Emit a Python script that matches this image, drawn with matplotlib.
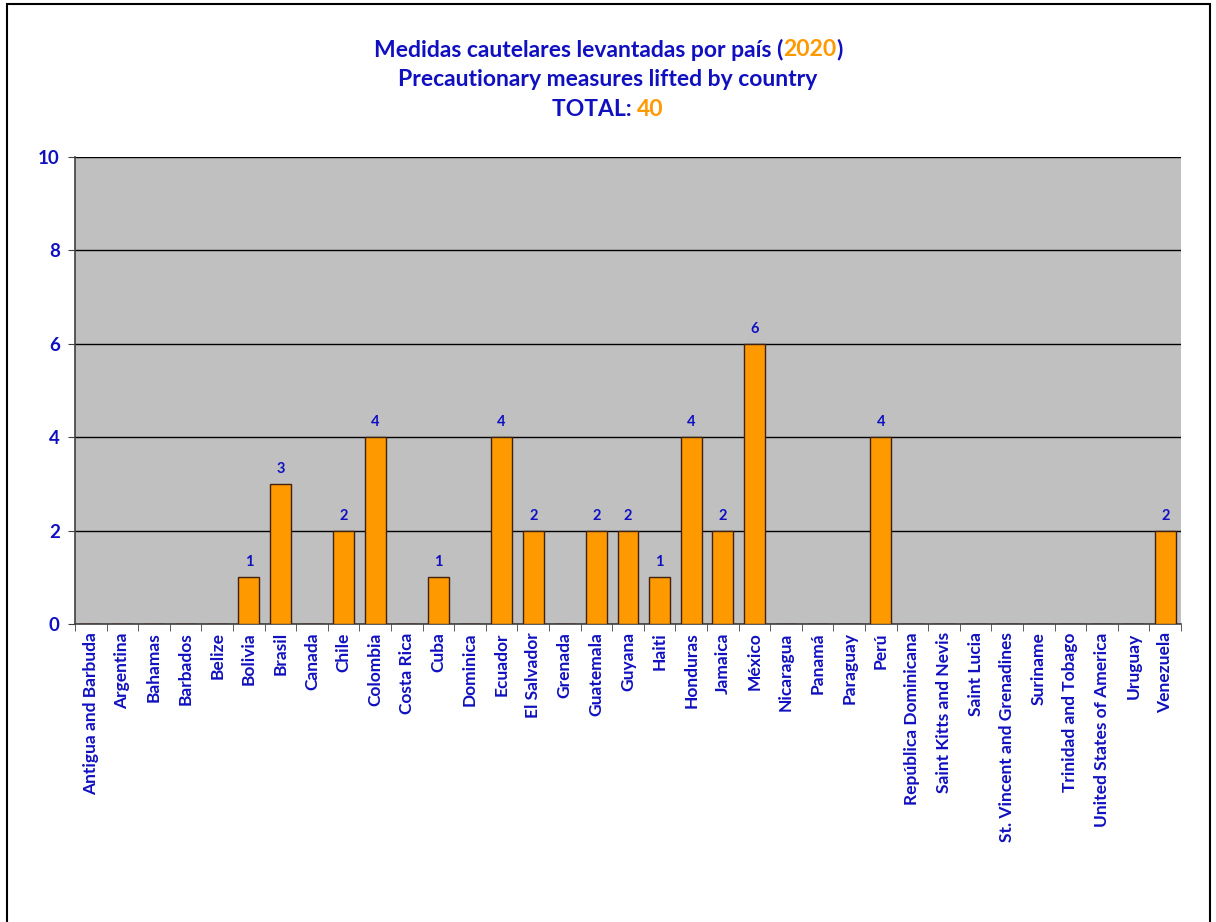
import matplotlib.pyplot as plt
from matplotlib.patches import Rectangle
import numpy as np

# --- Daten ---
countries = [
    "Antigua and Barbuda", "Argentina", "Bahamas", "Barbados", "Belize",
    "Bolivia", "Brasil", "Canada", "Chile", "Colombia", "Costa Rica", "Cuba",
    "Dominica", "Ecuador", "El Salvador", "Grenada", "Guatemala", "Guyana",
    "Haiti", "Honduras", "Jamaica", "México", "Nicaragua", "Panamá",
    "Paraguay", "Perú", "República Dominicana", "Saint Kitts and Nevis",
    "Saint Lucia", "St. Vincent and Grenadines", "Suriname",
    "Trinidad and Tobago", "United States of America", "Uruguay", "Venezuela",
]
values = [0, 0, 0, 0, 0, 1, 3, 0, 2, 4, 0, 1, 0, 4, 2, 0, 2, 2, 1, 4, 2, 6,
          0, 0, 0, 4, 0, 0, 0, 0, 0, 0, 0, 0, 2]
yticks = [0, 2, 4, 6, 8, 10]

BLUE = "#1010C0"
ORANGE = "#FF9900"
FONT = "Lato"

plt.rcParams['font.family'] = [FONT, 'DejaVu Sans']

fig = plt.figure(figsize=(12.16, 9.22), dpi=100)
ax = fig.add_axes([75 / 1216, 1 - 624 / 922, (1181 - 75) / 1216, (624 - 157) / 922])

# Rahmen um die Grafik
fig.patches.append(Rectangle((7 / 1216, -0.1), (1210 - 7) / 1216, 1.1 - 4 / 922,
                             transform=fig.transFigure, fill=False,
                             edgecolor="black", linewidth=1.5))

x = np.arange(len(countries))
ax.set_facecolor("#C0C0C0")
ax.bar(x, values, width=0.66, color=ORANGE, edgecolor="#402010", linewidth=1, zorder=3)

for xi, v in zip(x, values):
    if v > 0:
        ax.text(xi, v + 0.17, str(v), ha="center", va="bottom", color=BLUE,
                fontsize=10.5, fontweight="bold")

ax.set_xlim(-0.5, len(countries) - 0.5)
ax.set_ylim(0, 10)
ax.set_yticks(yticks)
ax.set_yticklabels([str(t) for t in yticks], color=BLUE, fontsize=13.5, fontweight="bold")
ax.tick_params(axis="y", length=5, color="#404040", pad=6)

ax.set_xticks(x)
ax.set_xticklabels(countries, rotation=90, color=BLUE, fontsize=12.5, fontweight="bold")
ax.tick_params(axis="x", which="major", length=0, pad=6)
ax.set_xticks(np.arange(-0.5, len(countries)), minor=True)
ax.tick_params(axis="x", which="minor", length=5, color="#404040")

ax.grid(axis="y", color="black", linewidth=1, zorder=1)
ax.set_axisbelow(True)
for s in ["top", "right"]:
    ax.spines[s].set_visible(False)
for s in ["left", "bottom"]:
    ax.spines[s].set_color("#404040")
    ax.spines[s].set_linewidth(1.2)


# --- Titel mit zwei Farben ---
def colored_line(parts, y, size=16.5):
    fig.canvas.draw()
    r = fig.canvas.get_renderer()
    texts = [fig.text(0, y, p, color=c, fontsize=size, fontweight="bold",
                      ha="left", va="center") for p, c in parts]
    widths = [t.get_window_extent(r).width for t in texts]
    total = sum(widths)
    start = (1216 / 2 - total / 2)
    for t, w in zip(texts, widths):
        t.set_x(start / 1216)
        start += w


colored_line([("Medidas cautelares levantadas por país (", BLUE), ("2020", ORANGE), (")", BLUE)],
             1 - 50 / 922)
colored_line([("Precautionary measures lifted by country", BLUE)], 1 - 80 / 922)
colored_line([("TOTAL: ", BLUE), ("40", ORANGE)], 1 - 109 / 922)

fig.savefig("out.png", dpi=100)
